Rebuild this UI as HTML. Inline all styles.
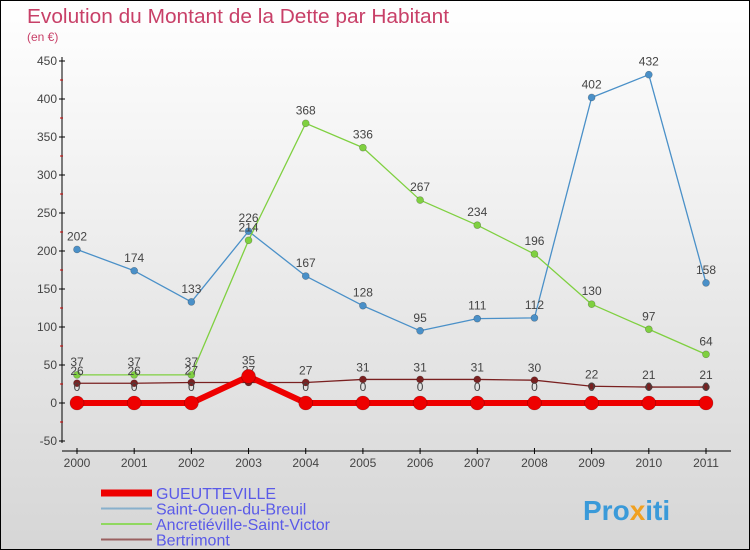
<!DOCTYPE html>
<html><head><meta charset="utf-8"><style>
body{margin:0}
#c{width:750px;height:550px;position:relative;box-sizing:border-box;border:1px solid #000;background:linear-gradient(#fff,#d6d6d6);font-family:"Liberation Sans",sans-serif;overflow:hidden}
text{font-family:"Liberation Sans",sans-serif}
</style></head><body>
<div id="c">
<svg id="s" width="750" height="550">
<text x="26" y="22" font-size="20" fill="#c84068" textLength="422" lengthAdjust="spacingAndGlyphs">Evolution du Montant de la Dette par Habitant</text>
<text x="26" y="40" font-size="12" fill="#c84068">(en €)</text>
<g id="axes"></g><g id="series"></g><g id="legend"></g>
<text x="582" y="519" font-size="28" font-weight="bold" fill="#3a9ad9">Pro<tspan fill="#f0a020">x</tspan>iti</text>
</svg>
</div>
<script>
const years=['2000','2001','2002','2003','2004','2005','2006','2007','2008','2009','2010','2011'];
const yTicks=[-50,0,50,100,150,200,250,300,350,400,450];
const gueutteville=[0,0,0,35,0,0,0,0,0,0,0,0];
const saintOuen=[202,174,133,226,167,128,95,111,112,402,432,158];
const ancretieville=[37,37,37,214,368,336,267,234,196,130,97,64];
const bertrimont=[26,26,27,27,27,31,31,31,30,22,21,21];
const NS='http://www.w3.org/2000/svg';
const X=i=>76+i*(705-76)/11;
const Y=v=>402-v*0.76;
function el(t,a,p){const e=document.createElementNS(NS,t);for(const k in a)e.setAttribute(k,a[k]);p.appendChild(e);return e;}
const ax=document.getElementById('axes');
let a=el('line',{x1:61,y1:56,x2:61,y2:442,stroke:'#000'},ax);


a=el('line',{x1:61,y1:450,x2:730,y2:450,stroke:'#000'},ax);


yTicks.forEach((v,i)=>{
 el('line',{x1:58,y1:Y(v),x2:64,y2:Y(v),stroke:'#000'},ax);
 if(i<yTicks.length-1)el('line',{x1:59,y1:Y(v+25),x2:62,y2:Y(v+25),stroke:'#c00'},ax);
 const t=el('text',{x:56,y:Y(v)+4,'font-size':12,fill:'#444','text-anchor':'end'},ax);t.textContent=v;
 
 
});
years.forEach((y,i)=>{
 el('line',{x1:X(i),y1:447,x2:X(i),y2:453,stroke:'#000'},ax);
 const t=el('text',{x:X(i),y:466,'font-size':12,fill:'#444','text-anchor':'middle'},ax);t.textContent=y;
 
 
});
const sg=document.getElementById('series');
function series(data,color,w,r,name,dy){
 const g=el('g',{},sg);
 
 
 el('polyline',{points:data.map((v,i)=>X(i)+','+Y(v)).join(' '),fill:'none',stroke:color,'stroke-width':w,'stroke-linejoin':'round'},g);
 data.forEach((v,i)=>{
  const c=el('circle',{cx:X(i),cy:Y(v),r:r,fill:color,stroke:'rgba(0,0,0,0.3)','stroke-width':0.6},g);
  
  
  const t=el('text',{x:X(i),y:Y(v)+dy,'font-size':12,fill:'#444','text-anchor':'middle'},g);t.textContent=v;
 });
}
series(saintOuen,'#4a90c8',1.3,3.5,'saint-ouen-series',-9);
series(ancretieville,'#7fd040',1.3,3.5,'ancretieville-series',-9);
series(bertrimont,'#7a2020',1.3,3.5,'bertrimont-series',-8);
series(gueutteville,'#ee0000',6,7,'gueutteville-series',-12);
const lg=document.getElementById('legend');
const items=[['GUEUTTEVILLE','#ee0000',7],['Saint-Ouen-du-Breuil','#88b0cc',2],['Ancretiéville-Saint-Victor','#90d860',2],['Bertrimont','#9a6060',2]];
items.forEach((it,i)=>{
 const y=492+i*15.5;
 const g=el('g',{},lg);
 
 
 el('line',{x1:100,y1:y,x2:151,y2:y,stroke:it[1],'stroke-width':it[2]},g);
 const t=el('text',{x:155,y:y+6,'font-size':16,fill:'#5a5ae8'},g);t.textContent=it[0];
});
</script>
</body></html>
